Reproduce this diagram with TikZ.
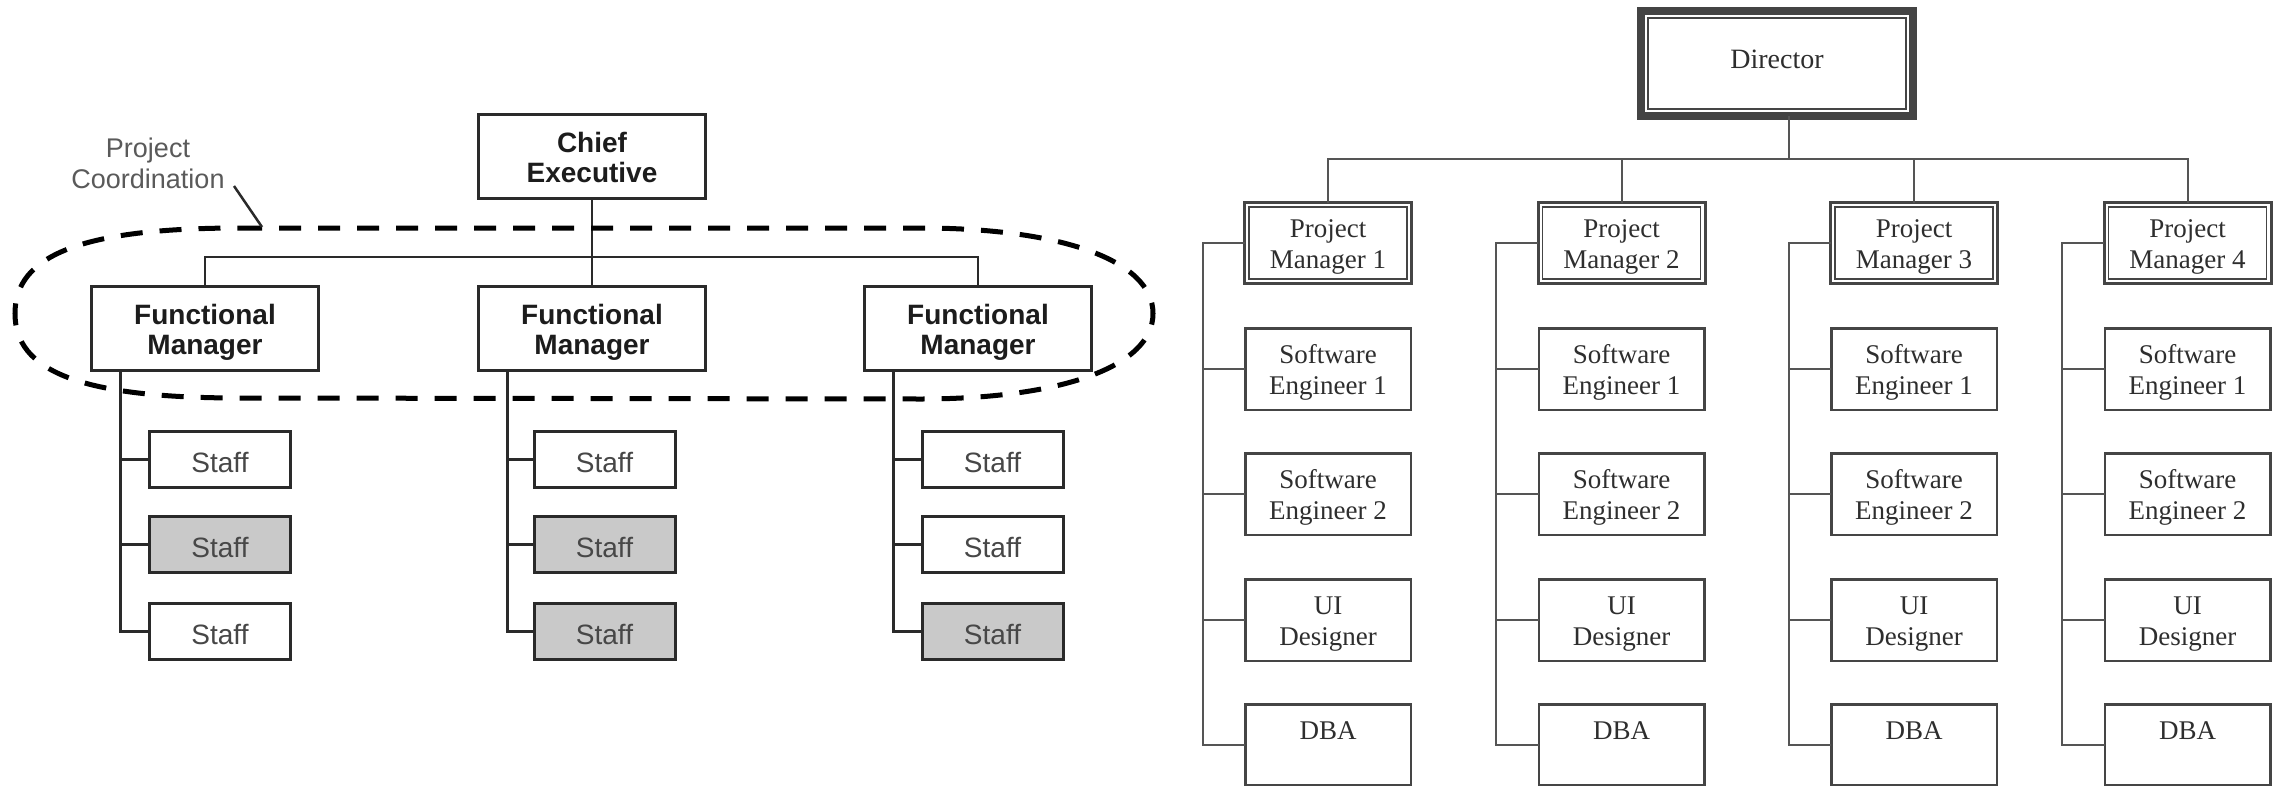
\documentclass[tikz,border=0pt]{standalone}
\usepackage{fontspec}
\setmainfont{Liberation Serif}
\newfontfamily\lsansfam{Liberation Sans}
\newfontfamily\rseriffam{Liberation Serif}
\definecolor{lineL}{HTML}{2A2A2A}
\definecolor{textL}{HTML}{1C1C1C}
\definecolor{staffText}{HTML}{474747}
\definecolor{fillgray}{HTML}{C9C9C9}
\definecolor{pcText}{HTML}{5A5A5A}
\definecolor{lineR}{HTML}{454545}
\definecolor{connR}{HTML}{555555}
\definecolor{textR}{HTML}{2E2E2E}
\definecolor{dirBand}{HTML}{444444}
\tikzset{
  lbox/.style={draw=lineL, line width=3pt, fill=white, inner sep=0pt, outer sep=0pt,
    align=center, text=textL, font=\lsansfam\bfseries\fontsize{28}{30}\selectfont,
    text height=51pt, text depth=0pt,
    minimum width=227pt, minimum height=84pt},
  staffbox/.style={draw=lineL, line width=3pt, fill=white, inner sep=0pt, outer sep=0pt,
    text=staffText, font=\lsansfam\fontsize{28}{30}\selectfont, text height=25pt, text depth=0pt,
    minimum width=141pt, minimum height=56pt},
  staffgray/.style={staffbox, fill=fillgray},
  lconn/.style={draw=lineL, line width=2.5pt},
  projdash/.style={draw=black, line width=5pt, dash pattern=on 22pt off 17pt},
  pclabel/.style={inner sep=0pt, align=center, text=pcText, font=\lsansfam\fontsize{27}{31}\selectfont},
  leader/.style={draw=lineL, line width=2.5pt},
  rbox/.style={draw=lineR, line width=2.5pt, fill=white, inner sep=0pt, outer sep=0pt,
    align=center, text=textR, font=\rseriffam\fontsize{27}{31}\selectfont,
    text height=51pt, text depth=0pt,
    minimum width=165.5pt, minimum height=81.5pt},
  pmbox/.style={rbox, line width=3pt, minimum width=167pt, minimum height=81pt,
    path picture={\draw[draw=lineR, line width=1.5pt]
      ([shift={(4.5pt,-4.5pt)}]path picture bounding box.north west) rectangle
      ([shift={(-4.5pt,4.5pt)}]path picture bounding box.south east);}},
  dirbox/.style={draw=dirBand, line width=8pt, fill=white, inner sep=0pt, outer sep=0pt,
    text=textR, font=\rseriffam\fontsize{28}{33}\selectfont, text depth=8pt,
    minimum width=272pt, minimum height=105pt,
    path picture={\draw[draw=lineR, line width=2pt]
      ([shift={(7pt,-7pt)}]path picture bounding box.north west) rectangle
      ([shift={(-7pt,7pt)}]path picture bounding box.south east);}},
  rconn/.style={draw=connR, line width=2pt}
}
\begin{document}
\begin{tikzpicture}[x=1pt,y=-1pt]
\useasboundingbox (0,0) rectangle (2282,787);
\fill[white] (0,0) rectangle (2282,787);

% ---------------- left diagram ----------------
\node[lbox, text height=53pt] (chief) at (592,156) {Chief\\Executive};
\node[lbox] (fm1) at (205,328.5) {Functional\\Manager};
\node[lbox] (fm2) at (592,328.5) {Functional\\Manager};
\node[lbox] (fm3) at (978,328.5) {Functional\\Manager};

\node[staffbox]  (s11) at (220,459.5) {Staff};
\node[staffgray] (s12) at (220,544.5) {Staff};
\node[staffbox]  (s13) at (220,631.5) {Staff};
\node[staffbox]  (s21) at (604.5,459.5) {Staff};
\node[staffgray] (s22) at (604.5,544.5) {Staff};
\node[staffgray] (s23) at (604.5,631.5) {Staff};
\node[staffbox]  (s31) at (992.5,459.5) {Staff};
\node[staffbox]  (s32) at (992.5,544.5) {Staff};
\node[staffgray] (s33) at (992.5,631.5) {Staff};

\coordinate (bus) at (592,257);
\draw[lconn] (fm1.north) |- (bus) -| (fm3.north);
\draw[lconn] (chief.south) -- (fm2.north);

\foreach \i in {1,2,3}{
  \coordinate (v\i) at ([xshift=29pt]fm\i.south west);
  \draw[lconn] (v\i) |- (s\i3.west);
  \draw[lconn] (s\i1.west -| v\i) -- (s\i1.west);
  \draw[lconn] (s\i2.west -| v\i) -- (s\i2.west);
}

\draw[projdash] (240,228) -- (920,228)
  .. controls (1060,228) and (1153,260) .. (1153,313.5)
  .. controls (1153,367) and (1060,399) .. (920,399)
  -- (240,398)
  .. controls (80,398) and (15,371) .. (15,313.5)
  .. controls (15,256) and (80,228) .. (240,228);

\node[pclabel] (pc) at (148,163) {Project\\Coordination};
\coordinate (ldA) at (234,186);
\coordinate (ldB) at (262,227);
\draw[leader] (ldA) -- (ldB);

% ---------------- right diagram ----------------
\node[dirbox] (dir) at (1777,63.5) {Director};

\node[pmbox] (pm1) at (1328,243) {Project\\Manager 1};
\node[pmbox] (pm2) at (1621.5,243) {Project\\Manager 2};
\node[pmbox] (pm3) at (1914,243) {Project\\Manager 3};
\node[pmbox] (pm4) at (2187.5,243) {Project\\Manager 4};

\foreach \i/\x in {1/1328,2/1621.5,3/1914,4/2187.5}{
  \node[rbox] (se\i a) at (\x,369) {Software\\Engineer 1};
  \node[rbox] (se\i b) at (\x,494) {Software\\Engineer 2};
  \node[rbox] (ui\i) at (\x,620) {UI\\Designer};
  \node[rbox, minimum height=80.5pt] (dba\i) at (\x,744.5) {DBA\\\phantom{Designer}};
  \coordinate (w\i) at ([xshift=-42pt]pm\i.west);
  \draw[rconn] (pm\i.west) -- (w\i) |- (dba\i.west);
  \draw[rconn] (se\i a.west -| w\i) -- (se\i a.west);
  \draw[rconn] (se\i b.west -| w\i) -- (se\i b.west);
  \draw[rconn] (ui\i.west -| w\i) -- (ui\i.west);
}

\coordinate (dbus) at (1789,159);
\draw[rconn] (dir.south -| dbus) -- (dbus);
\draw[rconn] (pm1.north) |- (dbus) -| (pm4.north);
\draw[rconn] (pm2.north) -- (pm2.north |- dbus);
\draw[rconn] (pm3.north) -- (pm3.north |- dbus);
\end{tikzpicture}
\end{document}
